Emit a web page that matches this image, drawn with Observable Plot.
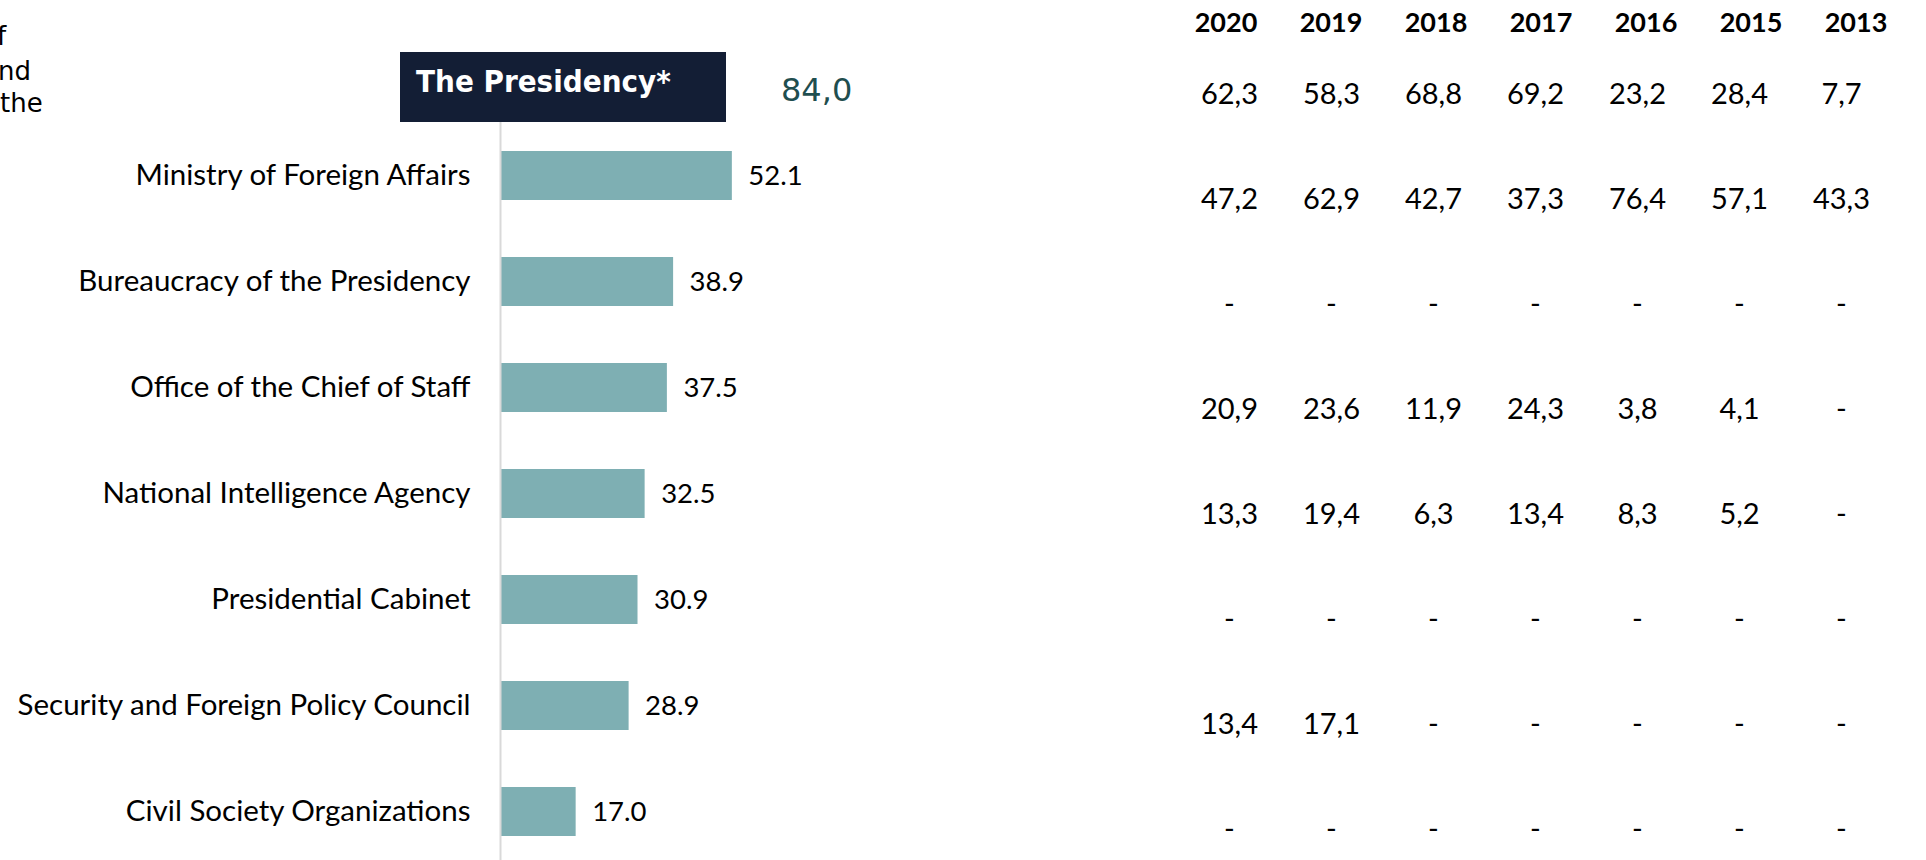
<!DOCTYPE html>
<html>
<head>
<meta charset="utf-8">
<script src="https://cdn.jsdelivr.net/npm/d3@7"></script>
<script src="https://cdn.jsdelivr.net/npm/@observablehq/plot@0.6"></script>
<style>
  html, body { margin: 0; padding: 0; background: #ffffff; }
  #chart { position: relative; width: 1926px; height: 860px; overflow: hidden; background: #ffffff; }
  #chart svg { position: absolute; left: 0; top: 0; }
  .frag { position: absolute; font-family: "DejaVu Sans", sans-serif; font-size: 26px; line-height: normal; color: #000; white-space: nowrap; }
  #pres-box { position: absolute; left: 400px; top: 52px; width: 326px; height: 70px; background: #131e35;
              display: flex; align-items: center; box-sizing: border-box; padding-left: 16px; padding-bottom: 12px; }
  #pres-label { font-family: "DejaVu Sans Condensed", "DejaVu Sans", sans-serif; font-weight: bold; font-size: 31px; color: #ffffff; white-space: nowrap; }
  #pres-value { position: absolute; left: 781px; top: 71px; font-family: "DejaVu Sans", sans-serif; font-size: 32px; line-height: normal; color: #1f4e4f; }
</style>
</head>
<body>
<div id="chart"></div>
<script>
// ---- data ----
const categories = [
  "Ministry of Foreign Affairs",
  "Bureaucracy of the Presidency",
  "Office of the Chief of Staff",
  "National Intelligence Agency",
  "Presidential Cabinet",
  "Security and Foreign Policy Council",
  "Civil Society Organizations"
];
const shares = [52.1, 38.9, 37.5, 32.5, 30.9, 28.9, 17.0];

const presidencyLabel = "The Presidency*";
const presidencyShare = 84.0;

const years = ["2020", "2019", "2018", "2017", "2016", "2015", "2013"];
const tableRows = [presidencyLabel, ...categories];
// values per year, in the order of tableRows (null = "-")
const v2020 = [62.3, 47.2, null, 20.9, 13.3, null, 13.4, null];
const v2019 = [58.3, 62.9, null, 23.6, 19.4, null, 17.1, null];
const v2018 = [68.8, 42.7, null, 11.9, 6.3, null, null, null];
const v2017 = [69.2, 37.3, null, 24.3, 13.4, null, null, null];
const v2016 = [23.2, 76.4, null, 3.8, 8.3, null, null, null];
const v2015 = [28.4, 57.1, null, 4.1, 5.2, null, null, null];
const v2013 = [7.7, 43.3, null, null, null, null, null, null];
const yearValues = [v2020, v2019, v2018, v2017, v2016, v2015, v2013];

const leftFragments = ["f", "nd", "the"];

// ---- derived tables ----
const bars = categories.map((name, i) => ({name, value: shares[i]}));
const cells = [];
years.forEach((yr, j) => tableRows.forEach((row, i) => cells.push({year: yr, row, value: yearValues[j][i]})));
const fmtComma = v => v == null ? "-" : d3.format(".1f")(v).replace(".", ",");

const W = 1926, H = 860;
const chart = document.getElementById("chart");
const textStyle = {fontFamily: "Lato, sans-serif", fontSize: "26px", color: "#000", background: "transparent", overflow: "visible"};

// ---- bars ----
const barPlot = Plot.plot({
  width: W, height: H,
  marginLeft: 500, marginRight: 0, marginTop: 122, marginBottom: 0,
  style: textStyle,
  x: {domain: [0, 100], range: [500, 945], axis: null},
  y: {type: "band", domain: categories, range: [121.6, 865.1], paddingInner: 0.535, paddingOuter: 0.2675, axis: null, label: null},
  marks: [
    Plot.barX(bars, {x: "value", y: "name", fill: "#7eafb3"}),
    Plot.ruleX([0], {stroke: "#d9d9d9", strokeWidth: 2}),
    Plot.axisY({tickSize: 0, tickPadding: 30, fontSize: 29.5, fill: "#000", label: null}),
    Plot.text(bars, {x: "value", y: "name", text: d => d3.format(".1f")(d.value), dx: 16, textAnchor: "start", fontSize: 27.5, fill: "#000"})
  ]
});
chart.appendChild(barPlot);

// ---- table values ----
const tablePlot = Plot.plot({
  width: W, height: H,
  margin: 0,
  style: textStyle,
  x: {type: "band", domain: years, range: [1175.75, 1893.25], padding: 0, axis: null},
  y: {type: "band", domain: tableRows, range: [39.1, 885.5], padding: 0, axis: null},
  marks: [
    Plot.text(cells, {x: "year", y: "row", text: d => fmtComma(d.value), fontSize: 29, fill: "#000"})
  ]
});
chart.appendChild(tablePlot);

// ---- table headers ----
const headerPlot = Plot.plot({
  width: W, height: 46,
  margin: 0,
  style: textStyle,
  x: {type: "band", domain: years, range: [1170.1, 1910.7], padding: 0, axis: null},
  marks: [
    Plot.text(years, {x: d => d, text: d => d, fontSize: 27, fontWeight: "bold", fill: "#000"})
  ]
});
chart.appendChild(headerPlot);

// ---- presidency box and value ----
const box = document.createElement("div");
box.id = "pres-box";
const lab = document.createElement("span");
lab.id = "pres-label";
lab.textContent = presidencyLabel;
box.appendChild(lab);
chart.appendChild(box);

const pv = document.createElement("div");
pv.id = "pres-value";
pv.textContent = d3.format(".1f")(presidencyShare).replace(".", ",");
chart.appendChild(pv);

// ---- clipped text fragments at the left edge ----
const fragLefts = [-3, -2, 0];
const fragTops = [21, 56, 88];
leftFragments.forEach((t, i) => {
  const d = document.createElement("div");
  d.className = "frag";
  d.style.left = fragLefts[i] + "px";
  d.style.top = fragTops[i] + "px";
  d.textContent = t;
  chart.appendChild(d);
});
</script>
</body>
</html>
